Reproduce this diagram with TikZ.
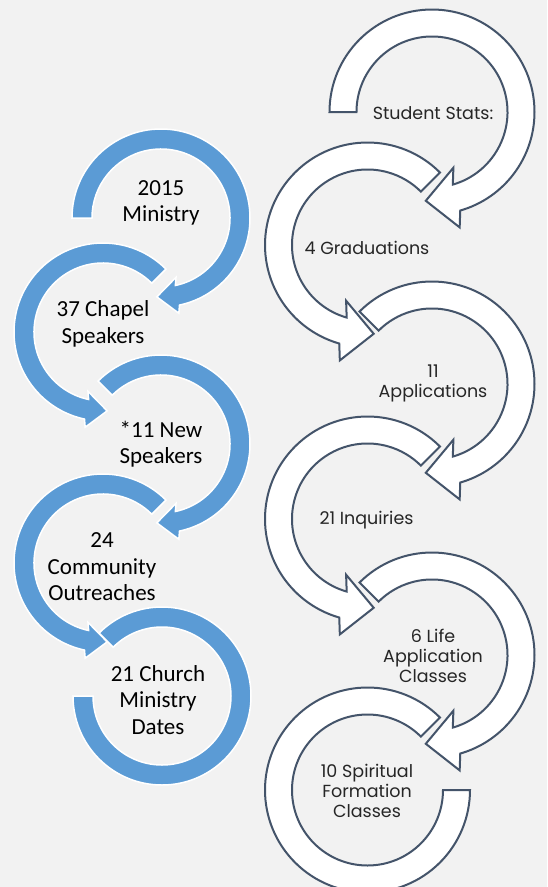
\documentclass[tikz,border=0pt]{standalone}
\usepackage{fontspec}
\setmainfont{Carlito}
\newfontfamily\statsfont{Poppins}
\usepackage{tikz}
\usetikzlibrary{calc}

\definecolor{paper}{HTML}{F2F2F2}
\definecolor{ringblue}{HTML}{5B9BD5}
\definecolor{slate}{HTML}{44546A}
\definecolor{statgray}{HTML}{262626}

\tikzset{
	blue ring/.style={fill=ringblue, draw=white, line width=1.5pt},
	white ring/.style={fill=white, draw=slate, line width=2pt},
	ministry text/.style={align=center, text=black, font=\fontsize{23}{26.5}\selectfont},
	stats text/.style={align=center, text=statgray, font=\statsfont\fontsize{17.5}{20}\selectfont},
}

\begin{document}
\begin{tikzpicture}[x=1pt,y=1pt]
	
	\useasboundingbox[fill=paper] (0,0) rectangle (547,-887);
	
	% centres of the rings, measured in pixels from the top left corner
	\coordinate (L1) at (161,-218);
	\coordinate (L2) at (103,-332);
	\coordinate (L3) at (161,-444);
	\coordinate (L4) at (103,-563);
	\coordinate (L5) at (162,-696);
	
	\coordinate (R1) at (432,-112);
	\coordinate (R2) at (367.5,-245);
	\coordinate (R3) at (432,-384);
	\coordinate (R4) at (367.5,-519);
	\coordinate (R5) at (432,-655);
	\coordinate (R6) at (367.5,-790);
	
	%%%%%%%%%%%%%%%%%%%%%%%%%%%%%%%%%%%%%%%%%%%%%%%%%%%%%%%%%%%%%%
	% left column: ring/start angle/base angle/tip angle/turn to outer barb/turn to inner barb
	\foreach \c/\s/\b/\t/\g/\h in {L1/180/-78/-93/90/270, L2/45/258/273/270/90,
		L3/135/-78/-93/90/270, L4/45/258/273/270/90}{
		\coordinate (B) at ($(\c)+(\b:79)$);
		\coordinate (T) at ($(\c)+(\t:79)$);
		\filldraw[blue ring] ($(\c)+(\s:89)$) arc[start angle=\s, end angle=\b, radius=89]
			-- ($(B)!18pt!\g:(T)$) -- (T) -- ($(B)!18pt!\h:(T)$)
			-- ($(\c)+(\b:69)$) arc[start angle=\b, end angle=\s, radius=69] -- cycle;
	}
	% last one has no head
	\filldraw[blue ring] ($(L5)+(135:89)$) arc[start angle=135, end angle=-180, radius=89]
		-- ($(L5)+(-180:69)$) arc[start angle=-180, end angle=135, radius=69] -- cycle;
	
	% right column, same idea with wider rings
	\foreach \c/\s/\b/\t/\g/\h in {R1/180/-74/-94/90/270, R2/45/254/274/270/90,
		R3/135/-74/-94/90/270, R4/45/254/274/270/90, R5/135/-74/-94/90/270}{
		\coordinate (B) at ($(\c)+(\b:89)$);
		\coordinate (T) at ($(\c)+(\t:89)$);
		\filldraw[white ring] ($(\c)+(\s:102.5)$) arc[start angle=\s, end angle=\b, radius=102.5]
			-- ($(B)!30pt!\g:(T)$) -- (T) -- ($(B)!30pt!\h:(T)$)
			-- ($(\c)+(\b:75.5)$) arc[start angle=\b, end angle=\s, radius=75.5] -- cycle;
	}
	\filldraw[white ring] ($(R6)+(45:102.5)$) arc[start angle=45, end angle=360, radius=102.5]
		-- ($(R6)+(0:75.5)$) arc[start angle=360, end angle=45, radius=75.5] -- cycle;
	
	%%%%%%%%%%%%%%%%%%%%%%%%%%%%%%%%%%%%%%%%%%%%%%%%%%%%%%%%%%%%%%
	% labels
	\node[ministry text] (L1Label) at (161,-203) {2015\\Ministry};
	\node[ministry text] (L2Label) at (103,-324) {37 Chapel\\Speakers};
	\node[ministry text] (L3Label) at (161,-444) {*11 New\\Speakers};
	\node[ministry text] (L4Label) at (102,-567) {24\\Community\\Outreaches};
	\node[ministry text] (L5Label) at (158,-700) {21 Church\\Ministry\\Dates};
	
	\node[stats text] (R1Label) at (433,-113) {Student Stats:};
	\node[stats text] (R2Label) at (367,-248) {4 Graduations};
	\node[stats text] (R3Label) at (433,-383) {11\\Applications};
	\node[stats text] (R4Label) at (366.5,-520) {21 Inquiries};
	\node[stats text] (R5Label) at (433,-656) {6 Life\\Application\\Classes};
	\node[stats text] (R6Label) at (367,-791) {10 Spiritual\\Formation\\Classes};
	
\end{tikzpicture}
\end{document}
